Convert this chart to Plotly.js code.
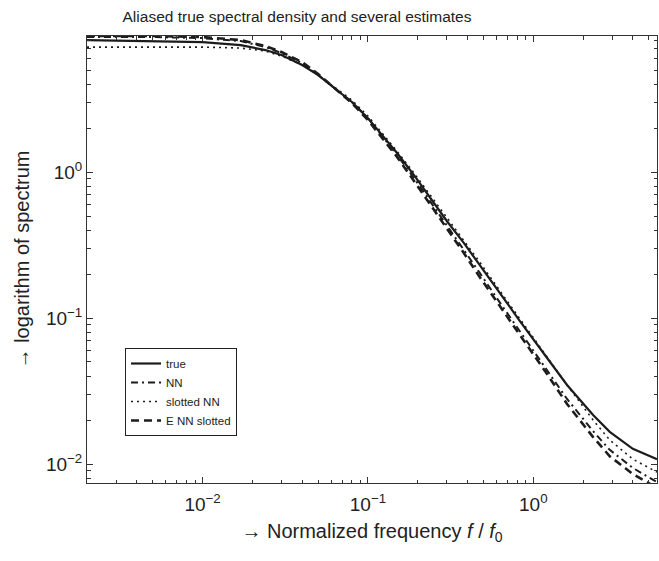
<!DOCTYPE html>
<html>
<head>
<meta charset="utf-8">
<script src="https://cdn.plot.ly/plotly-3.0.1.min.js"></script>
<style>html,body{margin:0;padding:0;background:#fff;}#chart{width:659px;height:561px;}</style>
</head>
<body>
<div id="chart"></div>
<script>
// Normalized frequency f/f0 (shared grid)
const freq = [0.002, 0.005, 0.01, 0.017, 0.024, 0.03, 0.04, 0.05, 0.065, 0.08, 0.1, 0.125, 0.15, 0.19, 0.24, 0.3, 0.38, 0.47, 0.63, 0.83, 1.2, 1.6, 2.3, 2.9, 4.0, 5.6];
// Spectrum values
const trueSpec = [8.02, 7.89, 7.77, 7.41, 6.85, 6.33, 5.41, 4.62, 3.64, 3.02, 2.34, 1.74, 1.35, 0.954, 0.664, 0.462, 0.327, 0.234, 0.146, 0.0954, 0.0541, 0.0348, 0.0217, 0.0166, 0.0127, 0.0108];
const nnSpec = [8.41, 8.41, 8.27, 7.89, 7.18, 6.53, 5.58, 4.62, 3.64, 3.02, 2.34, 1.71, 1.31, 0.910, 0.623, 0.427, 0.292, 0.207, 0.127, 0.0815, 0.0448, 0.0279, 0.0168, 0.0125, 0.0094, 0.00753];
const slottedNNSpec = [7.18, 7.18, 7.18, 7.07, 6.74, 6.23, 5.41, 4.62, 3.70, 3.11, 2.42, 1.79, 1.39, 0.984, 0.685, 0.484, 0.342, 0.245, 0.153, 0.0985, 0.0541, 0.0348, 0.0200, 0.0146, 0.0108, 0.0088];
const eNNSlottedSpec = [8.55, 8.55, 8.41, 8.02, 7.29, 6.64, 5.67, 4.69, 3.64, 2.97, 2.27, 1.66, 1.27, 0.868, 0.594, 0.407, 0.279, 0.194, 0.119, 0.0765, 0.0420, 0.0258, 0.0153, 0.0113, 0.00854, 0.00686];
const seriesNames = ['true', 'NN', 'slotted NN', 'E NN slotted'];

const xTickVals = [0.01, 0.1, 1];
const xTickText = ['10<sup>\u22122</sup>', '10<sup>\u22121</sup>', '10<sup>0</sup>'];
const yTickVals = [0.01, 0.1, 1];
const yTickText = ['10<sup>\u22122</sup>', '10<sup>\u22121</sup>', '10<sup>0</sup>'];

function minorVals(lo, hi) {
  const out = [];
  for (let e = lo; e <= hi; e++) for (let m = 2; m <= 9; m++) out.push(m * Math.pow(10, e));
  return out;
}

const ink = '#1c1c1c';
const traces = [
  {x: freq, y: trueSpec, name: seriesNames[0], mode: 'lines', line: {color: ink, width: 2.2, dash: 'solid'}},
  {x: freq, y: nnSpec, name: seriesNames[1], mode: 'lines', line: {color: ink, width: 2, dash: '7px,4px,2px,4px'}},
  {x: freq, y: slottedNNSpec, name: seriesNames[2], mode: 'lines', line: {color: ink, width: 1.6, dash: '2px,4px'}},
  {x: freq, y: eNNSlottedSpec, name: seriesNames[3], mode: 'lines', line: {color: ink, width: 2.6, dash: '8px,5px'}}
];

const axisCommon = {
  type: 'log', showgrid: false, zeroline: false, showline: true, linecolor: '#333', linewidth: 1,
  mirror: 'ticks', ticks: 'inside', ticklen: 6, tickwidth: 1, tickcolor: '#333',
  tickfont: {family: 'Liberation Sans, Arial, sans-serif', size: 19, color: '#222'},
  tickmode: 'array'
};

const layout = {
  width: 659, height: 561,
  margin: {l: 87, r: 2, t: 36, b: 78},
  paper_bgcolor: '#fff', plot_bgcolor: '#fff',
  font: {family: 'Liberation Sans, Arial, sans-serif', color: '#222'},
  title: {text: 'Aliased true spectral density and several estimates', font: {size: 15.5, color: '#222'},
          xref: 'container', x: 0.4507, xanchor: 'center', yref: 'container', y: 0.971, yanchor: 'middle'},
  xaxis: Object.assign({}, axisCommon, {
    range: [Math.log10(0.002), Math.log10(5.6)],
    tickvals: xTickVals, ticktext: xTickText, ticklabelstandoff: 4,
    minor: {tickmode: 'array', tickvals: minorVals(-3, 0), ticks: 'inside', ticklen: 3.5, tickcolor: '#333'},
    title: {text: '\u2192 Normalized frequency <i>f</i> / <i>f</i><sub>0</sub>', font: {size: 20, color: '#222'}, standoff: 10}
  }),
  yaxis: Object.assign({}, axisCommon, {
    range: [-2.130, 0.932],
    tickvals: yTickVals, ticktext: yTickText,
    minor: {tickmode: 'array', tickvals: minorVals(-3, 0), ticks: 'inside', ticklen: 3.5, tickcolor: '#333'},
    title: {text: '\u2192 logarithm of spectrum', font: {size: 20, color: '#222'}, standoff: 10}
  }),
  showlegend: true,
  legend: {x: 0.0667, y: 0.302, xanchor: 'left', yanchor: 'top', bgcolor: '#fff', bordercolor: '#222', borderwidth: 1,
           font: {size: 11.5, color: '#222'}, tracegroupgap: 0, itemwidth: 30}
};

Plotly.newPlot('chart', traces, layout, {displayModeBar: false, staticPlot: true});
</script>
</body>
</html>
